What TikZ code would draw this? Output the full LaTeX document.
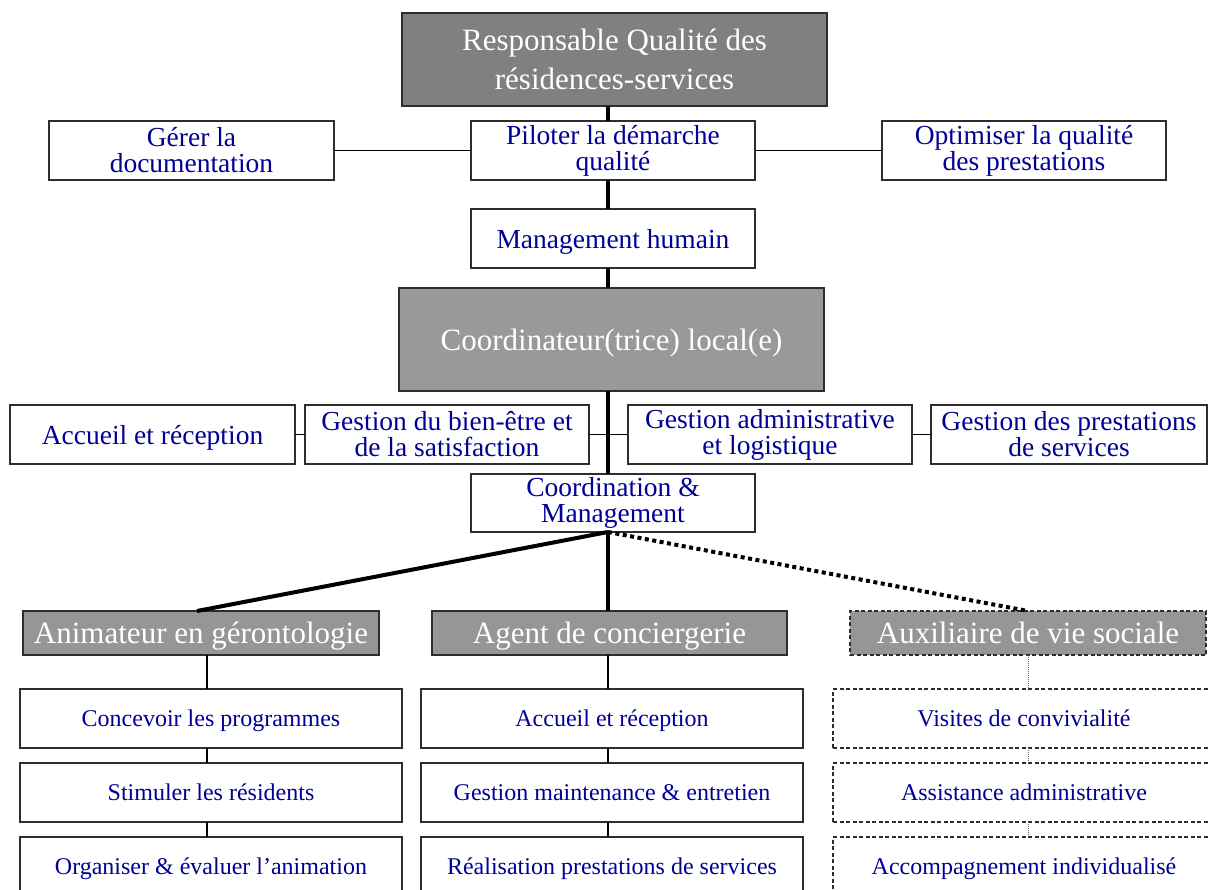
\documentclass[tikz,border=0pt]{standalone}
\usepackage{fontspec}
\setmainfont{Liberation Serif}
\definecolor{navy}{RGB}{0,0,150}
\definecolor{darkfill}{RGB}{128,128,128}
\definecolor{midfill}{RGB}{153,153,153}
\definecolor{hdrfill}{RGB}{150,150,150}
\definecolor{edge}{RGB}{45,45,45}
\begin{document}
\begin{tikzpicture}[x=1pt,y=-1pt,
  base/.style={draw=edge, line width=1.3pt, inner sep=0pt, outer sep=0pt, align=center},
  sz/.style 2 args={minimum width=#1pt, minimum height=#2pt},
  oneline/.style={text depth=0pt},
  topbox/.style={base, fill=darkfill, text=white, font=\fontsize{31}{39}\selectfont},
  midbox/.style={base, oneline, fill=midfill, text=white, font=\fontsize{31}{37}\selectfont},
  hdrbox/.style={base, oneline, fill=hdrfill, text=white, font=\fontsize{31}{37}\selectfont},
  dashbox/.style={dash pattern=on 4pt off 2.5pt, line width=1.2pt},
  wbox/.style={base, fill=white, text=navy, font=\fontsize{27.5}{26}\selectfont},
  sbox/.style={base, oneline, fill=white, text=navy, font=\fontsize{24}{28}\selectfont},
  thinline/.style={line width=1.2pt, draw=black},
  thickline/.style={line width=4pt, draw=black},
  dotline/.style={line width=4pt, draw=black, dash pattern=on 4pt off 3.5pt},
  finedot/.style={line width=0.9pt, draw=black!60, dash pattern=on 1pt off 1pt},
]
\useasboundingbox (0,0) rectangle (1208,890);
\clip (0,0) rectangle (1208,890);
\fill[white] (0,0) rectangle (1208,890);
\coordinate (sp) at (608,0);
\coordinate (c1) at (207,0);

% top levels
\node[topbox, sz={425}{93}] (top) at (614.5,59.5) {Responsable Qualité des\\résidences-services};
\node[wbox, sz={285}{59}] (ger) at (191.5,150.5) {Gérer la\\documentation};
\node[wbox, sz={284}{59}] (pil) at (613,150.5) {Piloter la démarche\\qualité};
\node[wbox, sz={284}{59}] (opt) at (1024,150.5) {Optimiser la qualité\\des prestations};
\node[wbox, oneline, sz={284}{59}] (man) at (613,238.5) {Management humain};
\node[midbox, sz={425}{103}] (coord) at (611.5,339.5) {Coordinateur(trice) local(e)};

\node[wbox, oneline, sz={285}{59}] (acc) at (152.5,434.5) {Accueil et réception};
\node[wbox, sz={284}{59}] (bien) at (447,434.5) {Gestion du bien-être et\\de la satisfaction};
\node[wbox, sz={284}{59}] (adm) at (770,434.5) {Gestion administrative\\et logistique};
\node[wbox, sz={276}{59}] (pres) at (1069,434.5) {Gestion des prestations\\de services};
\node[wbox, sz={284}{58}] (coma) at (613,503) {Coordination \&\\Management};

% headers
\node[hdrbox, sz={356}{44}] (anim) at (201,633) {Animateur en gérontologie};
\node[hdrbox, sz={355}{44}] (agent) at (609.5,633) {Agent de conciergerie};
\node[hdrbox, dashbox, sz={356}{44}] (aux) at (1028,633) {Auxiliaire de vie sociale};

% sub boxes
\node[sbox, sz={382}{59}] (a1) at (211,718.5) {Concevoir les programmes};
\node[sbox, sz={382}{59}] (a2) at (211,792.5) {Stimuler les résidents};
\node[sbox, sz={382}{59}] (a3) at (211,866.5) {Organiser \& évaluer l’animation};
\node[sbox, sz={382}{59}] (b1) at (612,718.5) {Accueil et réception};
\node[sbox, sz={382}{59}] (b2) at (612,792.5) {Gestion maintenance \& entretien};
\node[sbox, sz={382}{59}] (b3) at (612,866.5) {Réalisation prestations de services};
\node[sbox, dashbox, sz={382}{59}] (x1) at (1024,718.5) {Visites de convivialité};
\node[sbox, dashbox, sz={382}{59}] (x2) at (1024,792.5) {Assistance administrative};
\node[sbox, dashbox, sz={382}{59}] (x3) at (1024,866.5) {Accompagnement individualisé};

% horizontal thin connectors
\draw[thinline] (ger.east) -- (pil.west);
\draw[thinline] (pil.east) -- (opt.west);
\draw[thinline] (acc.east) -- (bien.west);
\draw[thinline] (bien.east) -- (adm.west);
\draw[thinline] (adm.east) -- (pres.west);

% spine
\draw[thickline] (top.south -| sp) -- (pil.north -| sp);
\draw[thickline] (pil.south -| sp) -- (man.north -| sp);
\draw[thickline] (man.south -| sp) -- (coord.north -| sp);
\draw[thickline] (coord.south -| sp) -- (coma.north -| sp);

% branches
\draw[thickline] (coma.south -| sp) -- ([xshift=-4pt]anim.north);
\draw[thickline] (coma.south -| sp) -- (agent.north -| sp);
\draw[dotline] (coma.south -| sp) -- (aux.north);

% column connectors
\draw[thinline] (anim.south -| c1) -- (a1.north -| c1);
\draw[thinline] (a1.south -| c1) -- (a2.north -| c1);
\draw[thinline] (a2.south -| c1) -- (a3.north -| c1);
\draw[thinline] (agent.south -| sp) -- (b1.north -| sp);
\draw[thinline] (b1.south -| sp) -- (b2.north -| sp);
\draw[thinline] (b2.south -| sp) -- (b3.north -| sp);
\draw[finedot] (aux.south) -- (aux.south |- x1.north);
\draw[finedot] (x1.south -| aux.south) -- (x2.north -| aux.south);
\draw[finedot] (x2.south -| aux.south) -- (x3.north -| aux.south);
\end{tikzpicture}
\end{document}
